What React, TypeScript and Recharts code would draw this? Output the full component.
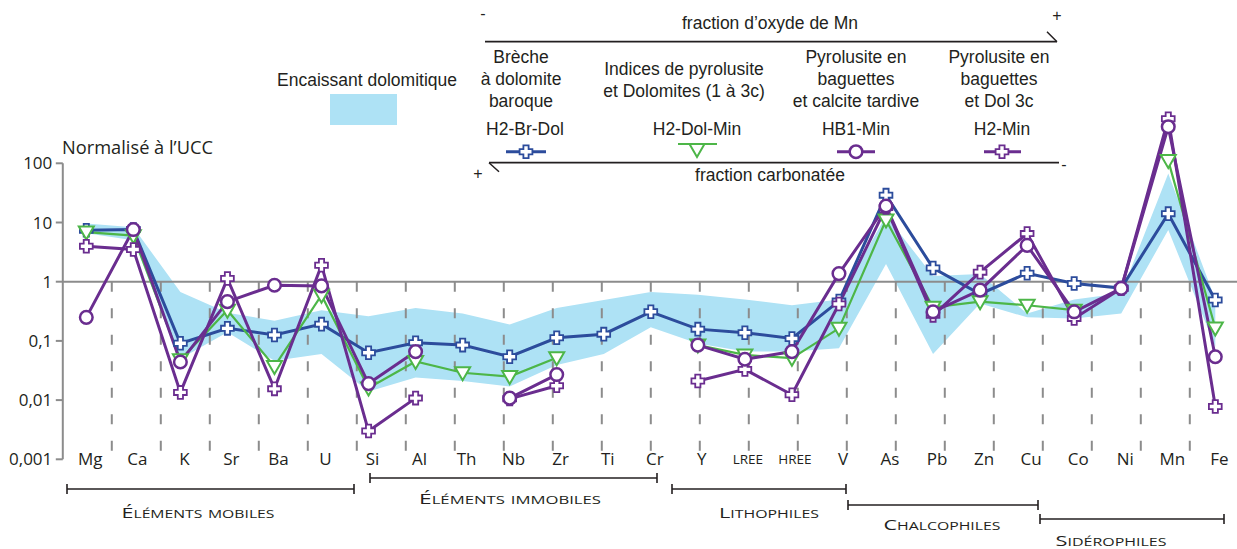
import React from 'react';
import { ComposedChart, Area, Line, XAxis, YAxis, ReferenceLine } from 'recharts';

// --- données (normalisé à l'UCC) ---
const elements = ['Mg', 'Ca', 'K', 'Sr', 'Ba', 'U', 'Si', 'Al', 'Th', 'Nb', 'Zr', 'Ti', 'Cr', 'Y', 'LREE', 'HREE', 'V', 'As', 'Pb', 'Zn', 'Cu', 'Co', 'Ni', 'Mn', 'Fe'];

// enveloppe de l'encaissant dolomitique
const bandLow = [6.6, 5.0, 0.05, 0.14, 0.046, 0.06, 0.014, 0.024, 0.021, 0.017, 0.039, 0.06, 0.17, 0.09, 0.066, 0.066, 0.075, 2.0, 0.06, 0.43, 0.25, 0.24, 0.29, 7.5, 0.08];
const bandHigh = [9.6, 8.3, 0.67, 0.3, 0.22, 0.33, 0.26, 0.36, 0.29, 0.19, 0.36, 0.49, 0.67, 0.6, 0.5, 0.4, 0.5, 13, 1.25, 1.35, 0.29, 0.5, 0.64, 67, 0.5];

const brDol = [7.4, 7.6, 0.091, 0.163, 0.126, 0.192, 0.063, 0.093, 0.085, 0.054, 0.113, 0.13, 0.31, 0.158, 0.137, 0.11, 0.47, 29, 1.7, 0.62, 1.39, 0.93, 0.78, 14.1, 0.49];
const dolMin = [6.9, 6.0, 0.048, 0.33, 0.037, 0.59, 0.016, 0.045, 0.029, 0.025, 0.052, null, null, 0.085, 0.058, 0.051, 0.163, 11, 0.37, 0.46, 0.4, 0.33, null, 111, 0.165];
const hb1Min = [0.25, 7.6, 0.044, 0.46, 0.87, 0.85, 0.019, 0.066, null, 0.0108, 0.027, null, null, 0.085, 0.049, 0.066, 1.37, 19, 0.31, 0.72, 4.1, 0.31, 0.77, 415, 0.054];
const h2Min = [3.96, 3.5, 0.0135, 1.13, 0.0155, 1.9, 0.003, 0.0108, null, 0.0105, 0.0175, null, null, 0.021, 0.033, 0.0123, 0.42, 18, 0.27, 1.45, 6.5, 0.24, 0.77, 565, 0.0078];

const yTicks = [0.001, 0.01, 0.1, 1, 10, 100];
const gridCuts = Array.from({ length: 24 }, (_, i) => i + 1); // limites entre éléments

const legendTitles = [
  ['Brèche', 'à dolomite', 'baroque'],
  ['Indices de pyrolusite', 'et Dolomites (1 à 3c)'],
  ['Pyrolusite en', 'baguettes', 'et calcite tardive'],
  ['Pyrolusite en', 'baguettes', 'et Dol 3c'],
];
const legendCodes = ['H2-Br-Dol', 'H2-Dol-Min', 'HB1-Min', 'H2-Min'];
const groupNames = ['Éléments mobiles', 'Éléments immobiles', 'Lithophiles', 'Chalcophiles', 'Sidérophiles'];

const BLUE = '#2c4c9c';
const GREEN = '#4db648';
const PURPLE = '#6a2d8f';
const BAND = '#aee2f5';
const GREY = '#8c8c8c';
const INK = '#231f20';
const MYRIAD = '"Open Sans", sans-serif';
const ARIAL = '"Liberation Sans", Arial, sans-serif';

const data = elements.map((el, i) => ({
  el,
  band: [bandLow[i], bandHigh[i]],
  brDol: brDol[i],
  dolMin: dolMin[i],
  hb1Min: hb1Min[i],
  h2Min: h2Min[i],
}));

// --- marqueurs ---
const plusPath = (cx: number, cy: number) => {
  const a = 2.6, l = 6.4;
  return `M${cx - a},${cy - l}H${cx + a}V${cy - a}H${cx + l}V${cy + a}H${cx + a}V${cy + l}H${cx - a}V${cy + a}H${cx - l}V${cy - a}H${cx - a}Z`;
};
const triPath = (cx: number, cy: number) => `M${cx - 7.5},${cy - 5.5}L${cx + 7.5},${cy - 5.5}L${cx},${cy + 7.5}Z`;

const Plus = ({ cx, cy, color }: any) => <path d={plusPath(cx, cy)} fill="#fff" stroke={color} strokeWidth={1.8} />;
const Tri = ({ cx, cy }: any) => <path d={triPath(cx, cy)} fill="#fff" stroke={GREEN} strokeWidth={2} />;
const Circ = ({ cx, cy }: any) => <circle cx={cx} cy={cy} r={6.3} fill="#fff" stroke={PURPLE} strokeWidth={2.5} />;

const dotOf = (kind: string, color: string) => (p: any) => {
  const k = `${kind}-${p.index}`;
  if (p.cx == null || p.cy == null || p.value == null) return <g key={k} />;
  if (kind === 'plus') return <g key={k}><Plus cx={p.cx} cy={p.cy} color={color} /></g>;
  if (kind === 'tri') return <g key={k}><Tri cx={p.cx} cy={p.cy} /></g>;
  return <g key={k}><Circ cx={p.cx} cy={p.cy} /></g>;
};

const XTick = ({ x, y, payload }: any) => {
  const small = payload.value === 'LREE' || payload.value === 'HREE';
  return (
    <text x={x + (small ? 3 : 4)} y={y} dy={small ? 5 : 6} textAnchor="middle" fontFamily={MYRIAD} fontSize={small ? 13.5 : 17} fill={INK}>
      {payload.value}
    </text>
  );
};

const fmt = (v: number) => String(v).replace('.', ',');

function Legend() {
  const colX = [521, 684, 856, 999];
  const codeX = [525, 697, 856, 1002];
  const rowsY = [[57, 79, 100.5], [68.5, 90.5], [57, 79, 100.5], [57, 79, 100.5]];
  const txt = { fontFamily: ARIAL, fontSize: 17.5, fill: INK, textAnchor: 'middle' as const };
  return (
    <g>
      <text x={367} y={86} {...txt}>Encaissant dolomitique</text>
      <rect x={330} y={94} width={67} height={31} fill={BAND} />

      <text x={483} y={19} {...txt} fontSize={16}>-</text>
      <text x={770} y={29} {...txt}>fraction d’oxyde de Mn</text>
      <text x={1057} y={21} {...txt} fontSize={16}>+</text>
      <line x1={485} y1={41.7} x2={1057} y2={41.7} stroke={INK} strokeWidth={1.8} />
      <line x1={1047} y1={31.7} x2={1057} y2={41.7} stroke={INK} strokeWidth={1.5} />

      {legendTitles.map((lines, c) => lines.map((s, r) => (
        <text key={`t${c}${r}`} x={colX[c]} y={rowsY[c][r] + 6.3} {...txt}>{s}</text>
      )))}
      {legendCodes.map((s, c) => (
        <text key={`c${c}`} x={codeX[c]} y={135} {...txt}>{s}</text>
      ))}

      <line x1={506} y1={151.7} x2={546} y2={151.7} stroke={BLUE} strokeWidth={3} />
      <Plus cx={526} cy={151.7} color={BLUE} />
      <line x1={678} y1={144} x2={717} y2={144} stroke={GREEN} strokeWidth={2.2} />
      <Tri cx={697} cy={149.5} />
      <line x1={837} y1={151.7} x2={875} y2={151.7} stroke={PURPLE} strokeWidth={3} />
      <Circ cx={856} cy={151.7} />
      <line x1={984} y1={151.7} x2={1021} y2={151.7} stroke={PURPLE} strokeWidth={3} />
      <Plus cx={1002} cy={151.7} color={PURPLE} />

      <line x1={489} y1={162.7} x2={1059} y2={162.7} stroke={INK} strokeWidth={1.8} />
      <line x1={489} y1={162.7} x2={499} y2={171.7} stroke={INK} strokeWidth={1.5} />
      <text x={478} y={179} {...txt} fontSize={16}>+</text>
      <text x={1064} y={170} {...txt} fontSize={16}>-</text>
      <text x={770} y={181} {...txt}>fraction carbonatée</text>

      <text x={62} y={154} fontFamily={MYRIAD} fontSize={18} fill={INK} textLength={151} lengthAdjust="spacingAndGlyphs">Normalisé à l’UCC</text>
    </g>
  );
}

function Groups() {
  const spans = [[67, 354, 489], [370, 657, 478], [672, 846, 489], [848, 1038, 505], [1040, 1224, 519]];
  const labels = [[198, 518, 153], [510, 504, 182], [769, 518, 100], [942, 530, 117], [1111, 546, 111]];
  return (
    <g>
      {spans.map(([a, b, y], i) => (
        <g key={i} stroke={INK} strokeWidth={1.6}>
          <line x1={a} y1={y} x2={b} y2={y} />
          <line x1={a} y1={y - 5} x2={a} y2={y + 5} />
          <line x1={b} y1={y - 5} x2={b} y2={y + 5} />
        </g>
      ))}
      {groupNames.map((s, i) => (
        <text key={s} x={labels[i][0]} y={labels[i][1]} textAnchor="middle" fontFamily={MYRIAD} fontSize={15}
          fill={INK} style={{ fontVariant: 'small-caps' }} textLength={labels[i][2]} lengthAdjust="spacingAndGlyphs">{s}</text>
      ))}
    </g>
  );
}

export default function App() {
  return (
    <div style={{ position: 'absolute', left: 0, top: 0, width: 1237, height: 549, overflow: 'hidden', background: '#fff' }}>
      <ComposedChart width={1240} height={549} data={data} margin={{ top: 104.1, right: 1.2, bottom: 59.7, left: 2.8 }}>
        <XAxis dataKey="el" tick={XTick} tickLine={false} axisLine={false} tickSize={0} tickMargin={0} height={30} interval={0}
          padding={{ left: 23.5, right: 23.5 }} />
        <XAxis xAxisId="g" type="number" domain={[0, 25]} allowDataOverflow hide />
        <YAxis scale="log" domain={[0.001, 1000]} allowDataOverflow ticks={yTicks} tickFormatter={fmt} width={60}
          axisLine={false} tickLine={{ stroke: GREY, strokeWidth: 2 }} tickSize={7} tickMargin={3.5}
          tick={{ fontFamily: MYRIAD, fontSize: 17, fill: INK }} />
        <Area dataKey="band" type="linear" fill={BAND} fillOpacity={1} stroke="none" isAnimationActive={false} />
        <ReferenceLine xAxisId="g" segment={[{ x: 0, y: 0.001 }, { x: 0, y: 100 }]} stroke={GREY} strokeWidth={2} />
        <ReferenceLine y={1} stroke={GREY} strokeWidth={2} />
        {gridCuts.map(k => (
          <ReferenceLine key={k} xAxisId="g" segment={[{ x: k, y: 1 }, { x: k, y: 0.001 }]} stroke={GREY} strokeWidth={2} strokeDasharray="10 16.5" />
        ))}
        <Line dataKey="brDol" stroke={BLUE} strokeWidth={3} dot={dotOf('plus', BLUE)} isAnimationActive={false} />
        <Line dataKey="dolMin" stroke={GREEN} strokeWidth={2.2} dot={dotOf('tri', GREEN)} isAnimationActive={false} />
        <Line dataKey="h2Min" stroke={PURPLE} strokeWidth={3} dot={dotOf('plus', PURPLE)} isAnimationActive={false} />
        <Line dataKey="hb1Min" stroke={PURPLE} strokeWidth={3} dot={dotOf('circ', PURPLE)} isAnimationActive={false} />
      </ComposedChart>
      <svg width={1237} height={549} style={{ position: 'absolute', left: 0, top: 0, pointerEvents: 'none' }}>
        <Legend />
        <Groups />
      </svg>
    </div>
  );
}
